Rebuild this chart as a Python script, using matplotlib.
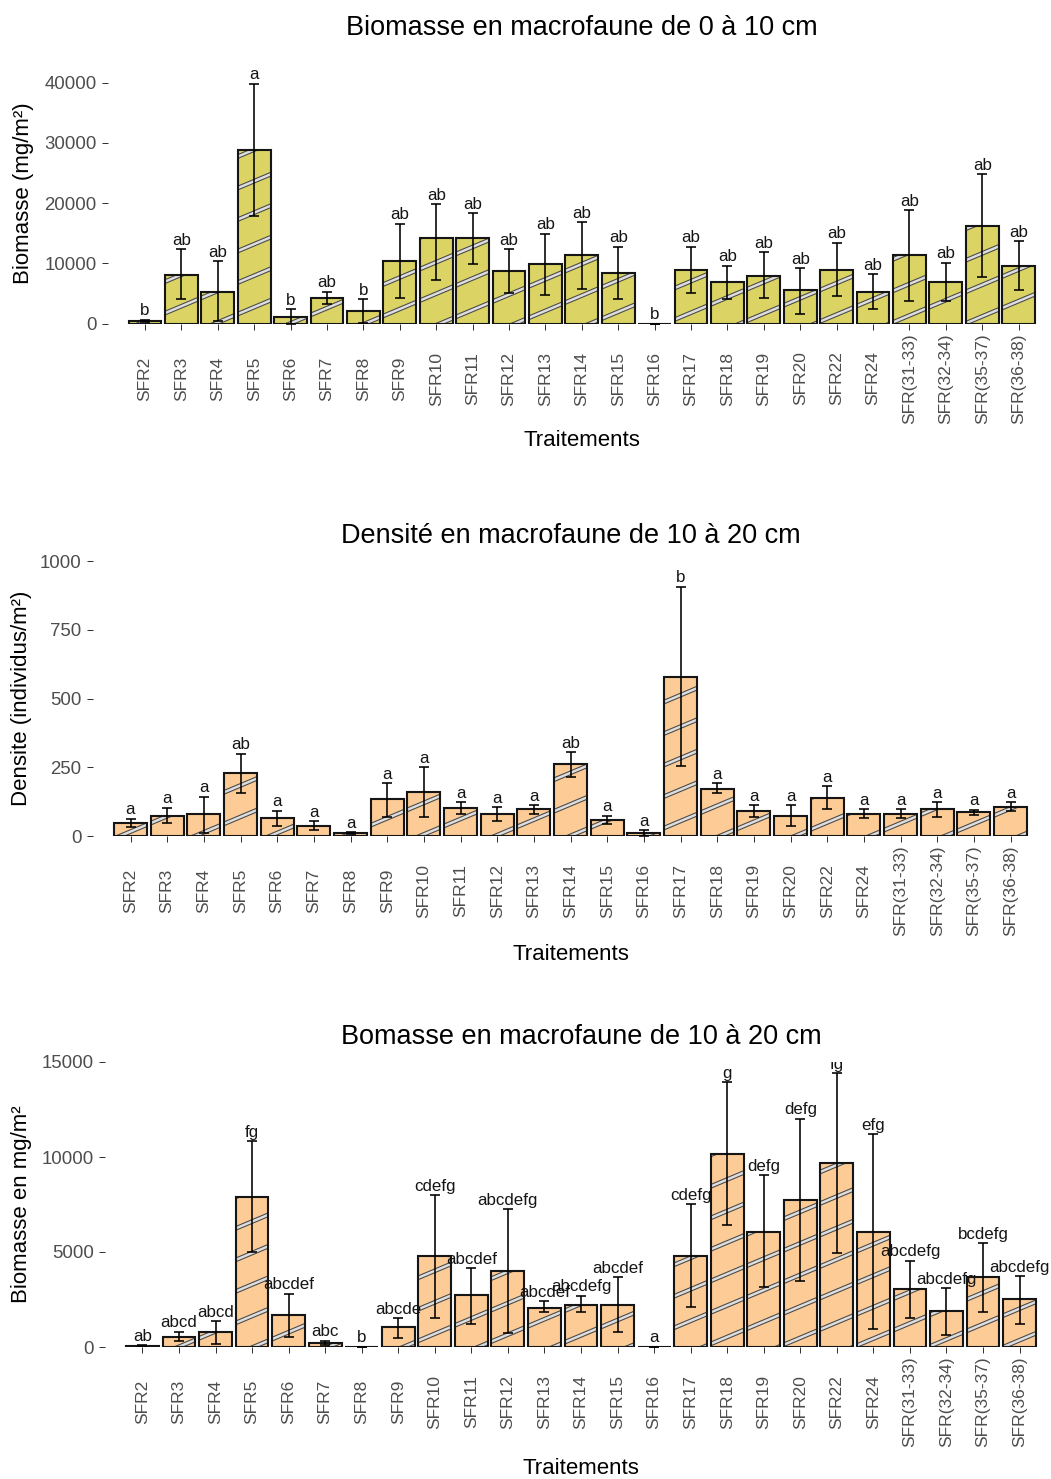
import numpy as np
import matplotlib
matplotlib.use("Agg")
import matplotlib.pyplot as plt
from matplotlib.collections import LineCollection

plt.rcParams['font.family'] = ['Liberation Sans', 'DejaVu Sans']

treatments = ["SFR2", "SFR3", "SFR4", "SFR5", "SFR6", "SFR7", "SFR8", "SFR9",
              "SFR10", "SFR11", "SFR12", "SFR13", "SFR14", "SFR15", "SFR16",
              "SFR17", "SFR18", "SFR19", "SFR20", "SFR22", "SFR24",
              "SFR(31-33)", "SFR(32-34)", "SFR(35-37)", "SFR(36-38)"]

# Biomasse 0-10 cm (mg/m²): mean, lower and upper error bounds, letters
bio_top_mean = [450, 8100, 5300, 28900, 1150, 4300, 2150, 10350, 14150, 14150,
                8700, 9850, 11350, 8400, 0, 8850, 6950, 7900, 5550, 8850,
                5250, 11300, 6950, 16200, 9600]
bio_top_low = [300, 4050, 450, 17900, 0, 3300, 150, 4250, 7150, 9850,
               5050, 4800, 5750, 4100, 0, 5050, 4000, 4250, 1600, 4500,
               2400, 3800, 3800, 7700, 5550]
bio_top_high = [600, 12300, 10350, 39800, 2400, 5250, 4050, 16600, 19800, 18300,
                12300, 14950, 16850, 12750, 0, 12750, 9600, 11800, 9150, 13450,
                8150, 18800, 10100, 24800, 13700]
bio_top_letters = ["b", "ab", "ab", "a", "b", "ab", "b", "ab", "ab", "ab",
                   "ab", "ab", "ab", "ab", "b", "ab", "ab", "ab", "ab", "ab",
                   "ab", "ab", "ab", "ab", "ab"]

# Densite 10-20 cm (individus/m²)
dens_mean = [47, 73, 80, 230, 64, 36, 10, 133, 160, 102, 80, 97, 261, 59, 10,
             580, 170, 91, 74, 139, 80, 80, 97, 86, 106]
dens_low = [33, 47, 11, 158, 37, 21, 6, 69, 69, 80, 53, 81, 213, 45, 0,
            255, 155, 69, 37, 97, 64, 64, 69, 75, 91]
dens_high = [63, 102, 143, 299, 91, 53, 14, 191, 250, 122, 105, 111, 304, 74, 21,
             907, 191, 111, 111, 181, 97, 97, 122, 96, 122]
dens_letters = ["a", "a", "a", "ab", "a", "a", "a", "a", "a", "a", "a", "a",
                "ab", "a", "a", "b", "a", "a", "a", "a", "a", "a", "a", "a", "a"]

# Biomasse 10-20 cm (mg/m²)
bio_deep_mean = [70, 545, 790, 7910, 1670, 210, 0, 1040, 4800, 2730, 3990, 2060,
                 2230, 2230, 0, 4800, 10150, 6070, 7750, 9670, 6070, 3030, 1920,
                 3660, 2550]
bio_deep_low = [40, 320, 140, 5010, 545, 90, 0, 490, 1550, 1200, 720, 1830,
                1860, 790, 0, 2080, 6420, 3180, 3500, 4960, 970, 1510, 630,
                1830, 1230]
bio_deep_high = [100, 790, 1350, 10820, 2800, 320, 0, 1510, 7980, 4150, 7260, 2410,
                 2710, 3680, 0, 7510, 13930, 9040, 12010, 14420, 11200, 4540, 3100,
                 5450, 3730]
bio_deep_letters = ["ab", "abcd", "abcd", "fg", "abcdef", "abc", "b", "abcde",
                    "cdefg", "abcdef", "abcdefg", "abcdef", "abcdefg", "abcdef",
                    "a", "cdefg", "g", "defg", "defg", "fg", "efg", "abcdefg",
                    "abcdefg", "bcdefg", "abcdefg"]

W, H = 1051, 1479
DPI = 100
fig = plt.figure(figsize=(W / DPI, H / DPI), dpi=DPI)

PX = 72.0 / DPI  # points per pixel
EXP = 1.03       # discrete axis expansion (in bar units)

TICK_GREY = "#4D4D4D"


def stripe_segments(slope=0.42, spacing_px=31.5):
    # parallel stripes covering the whole figure, in inches
    w_in, h_in = W / DPI, H / DPI
    sp = spacing_px / DPI
    segs = []
    c = -slope * w_in - 1.0
    while c < h_in + 1.0:
        segs.append([(0.0, c), (w_in, c + slope * w_in)])
        c += sp
    return segs


SEGS = stripe_segments()


def panel(bounds, means, lows, highs, letters, fill, ymax, yticks, ylabel,
          title, title_y, xlabel_y, ylabel_x):
    left, right, top, bottom = bounds
    ax = fig.add_axes([left / W, 1 - bottom / H, (right - left) / W,
                       (bottom - top) / H])
    x = np.arange(len(treatments))
    means = np.asarray(means, float)
    lows = np.asarray(lows, float)
    highs = np.asarray(highs, float)

    fills = ax.bar(x, means, width=0.9, color=fill, edgecolor="none",
                   linewidth=0, zorder=1)
    # diagonal stripe pattern inside each bar
    for rect in fills:
        if rect.get_height() <= 0:
            continue
        for lw, col in ((4.6, "#4A4A4A"), (2.4, "#DEDEDE")):
            lc = LineCollection(SEGS, colors=col, linewidths=lw * PX,
                                transform=fig.dpi_scale_trans, zorder=2)
            ax.add_collection(lc, autolim=False)
            lc.set_clip_path(rect)
    ax.bar(x, means, width=0.9, facecolor="none", edgecolor="#151515",
           linewidth=2.1 * PX, zorder=3)
    ax.errorbar(x, means, yerr=[means - lows, highs - means], fmt="none",
                ecolor="black", elinewidth=1.6 * PX, capsize=3.3,
                capthick=1.6 * PX, zorder=4)
    for xi, hi, lab in zip(x, highs, letters):
        ax.annotate(lab, (xi, hi), xytext=(0, 4.5 * PX),
                    textcoords="offset points", ha="center", va="baseline",
                    fontsize=12.2, color="#151515", annotation_clip=False,
                    clip_on=True, zorder=5)

    ax.set_xlim(-EXP, len(treatments) - 1 + EXP)
    ax.set_ylim(0, ymax)
    ax.set_yticks(yticks)
    ax.set_yticklabels([str(t) for t in yticks], fontsize=13.4, color=TICK_GREY)
    ax.set_xticks(x)
    ax.set_xticklabels(treatments, rotation=90, va="center", fontsize=12.5,
                       color=TICK_GREY)
    for s in ax.spines.values():
        s.set_visible(False)
    ax.tick_params(axis="y", length=6 * PX, width=1.0 * PX, color="#333333",
                   pad=5 * PX)
    ax.tick_params(axis="x", length=6 * PX, width=1.0 * PX, color="#333333",
                   pad=(55 - 6) * PX)
    ax.patch.set_visible(False)

    cx = (left + right) / 2
    fig.text(cx / W, 1 - title_y / H, title, ha="center", va="center",
             fontsize=19.5, color="black")
    fig.text(cx / W, 1 - xlabel_y / H, "Traitements", ha="center",
             va="center", fontsize=16, color="black")
    fig.text(ylabel_x / W, 1 - ((top + bottom) / 2) / H, ylabel,
             ha="center", va="center", rotation=90, fontsize=16,
             color="black")
    return ax


def bounds_for(first_px, step_px, top_px, bottom_px):
    left = first_px - EXP * step_px
    right = first_px + (len(treatments) - 1 + EXP) * step_px
    return (left, right, top_px, bottom_px)


panel(bounds_for(145.0, 36.4, 63.5, 323.5), bio_top_mean, bio_top_low,
      bio_top_high, bio_top_letters, "#DBD465", 43200,
      [0, 10000, 20000, 30000, 40000], "Biomasse (mg/m²)",
      "Biomasse en macrofaune de 0 à 10 cm", 28, 441, 23)

panel(bounds_for(130.5, 36.67, 561, 836), dens_mean, dens_low, dens_high,
      dens_letters, "#FDCB96", 1000, [0, 250, 500, 750, 1000],
      "Densite (individus/m²)",
      "Densité en macrofaune de 10 à 20 cm", 536, 955, 22)

panel(bounds_for(142.4, 36.55, 1062, 1347), bio_deep_mean, bio_deep_low,
      bio_deep_high, bio_deep_letters, "#FDCB96", 15000,
      [0, 5000, 10000, 15000], "Biomasse en mg/m²",
      "Bomasse en macrofaune de 10 à 20 cm", 1037, 1468, 22)

fig.savefig("out.png", dpi=DPI, facecolor="white")
